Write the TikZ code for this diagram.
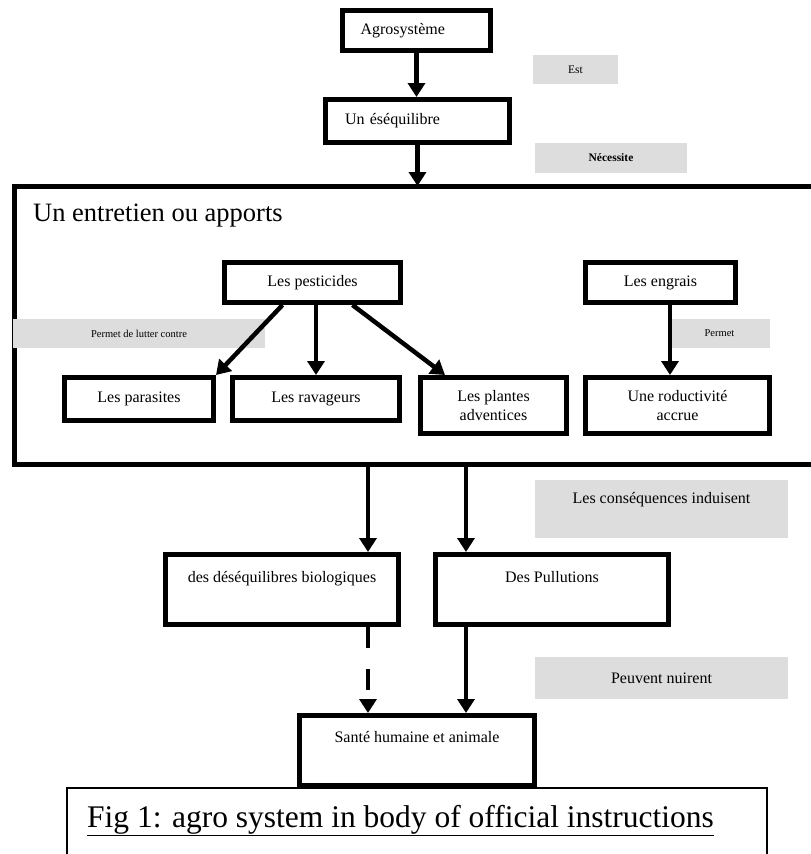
\documentclass[tikz,border=0pt]{standalone}
\usepackage{fontspec}
\setmainfont{Liberation Serif}
\usetikzlibrary{positioning,arrows.meta}
\definecolor{notegray}{HTML}{DDDDDD}

\tikzset{
	box/.style={draw,line width=5pt,align=center,inner sep=2pt,font=\fontsize{16}{19}\selectfont},
	note/.style={fill=notegray,inner sep=0pt,font=\fontsize{10.5}{12}\selectfont},
	arr/.style={line width=4.5pt,-{Triangle[width=17pt,length=14pt]}},
}

\begin{document}
\begin{tikzpicture}[x=1pt,y=-1pt]
	\useasboundingbox (0,0) rectangle (811,854);

	\node (agro)[box,minimum height=40,text width=112pt,align=left,inner xsep=18pt] at (416.5,30.5){Agrosystème};
	\node (eq)[box,minimum height=43,text width=145pt,align=left,inner xsep=19.5pt] at (417.5,121){Un éséquilibre};
	\node (est)[note,minimum width=85,minimum height=29,font=\fontsize{11.5}{13}\selectfont] at (575.5,69.5){Est};
	\node (necessite)[note,minimum width=152,minimum height=30,font=\fontsize{11.5}{13}\selectfont] at (611,158){\textbf{Nécessite}};

	% le grand cadre
	\node (entretien)[draw,line width=5pt,outer sep=0pt,anchor=north west,minimum width=830,minimum height=278] at (14.5,186){};
	\node (titre)[anchor=base west,inner sep=0pt,font=\fontsize{26.5}{30}\selectfont] at (33,221){Un entretien ou apports};

	\node (pest)[box,minimum width=176,minimum height=40] at (312.5,282.5){Les pesticides};
	\node (engrais)[box,minimum width=150,minimum height=40] at (660.5,282.5){Les engrais};
	\node (lutter)[note,minimum width=252,minimum height=29] at (139,333.5){Permet de lutter contre};
	\node (permet)[note,minimum width=101,minimum height=29] at (719.5,333.5){Permet};

	\node (parasites)[box,minimum width=149,minimum height=43] at (139,399){Les parasites};
	\node (rav)[box,minimum width=167,minimum height=43,right=14pt of parasites]{Les ravageurs};
	\node (plantes)[box,minimum width=146,minimum height=56] at (493.5,405.5){Les plantes\\adventices};
	\node (prod)[box,minimum width=184,minimum height=56] at (677.5,405.5){Une roductivité\\accrue};

	\node (consequences)[note,minimum width=253,minimum height=58,text height=12pt,text depth=24pt,font=\fontsize{16}{19}\selectfont] at (661.5,509){Les conséquences induisent};
	\node (nuire)[note,minimum width=253,minimum height=42,font=\fontsize{16}{19}\selectfont] at (661.5,678){Peuvent nuirent};

	\node (desq)[box,minimum width=233,minimum height=70,text height=12pt,text depth=27pt] at (282,589.5){des déséquilibres biologiques};
	\node (pull)[box,minimum width=233,minimum height=70,text height=12pt,text depth=27pt] at (552,589.5){Des Pullutions};
	\node (sante)[box,minimum width=235,minimum height=70,text height=12pt,text depth=29pt] at (417,750.5){Santé humaine et animale};

	% legende
	\node (cadre)[draw,line width=1.3pt,outer sep=0pt,anchor=north west,minimum width=700,minimum height=100] at (67,788){};
	\node (legende)[anchor=base west,inner sep=0pt,font=\fontsize{31.5}{36}\selectfont] at (87,827){\underline{Fig 1: agro system in body of official instructions}};

	% draw the connections
	\draw[arr] (agro.south) -- (agro.south |- eq.north);
	\draw[arr] (eq.south) -- (eq.south |- entretien.north);
	\draw[arr] ([xshift=-30pt]pest.south) -- (parasites.north east);
	\draw[arr] (pest.south -| rav.north) -- (rav.north);
	\draw[arr] ([xshift=40pt]pest.south) -- ([xshift=27pt]plantes.north west);
	\draw[arr] ([xshift=9.5pt]engrais.south) -- ([xshift=9.5pt]engrais.south |- prod.north);
	\draw[arr] ([xshift=86pt]desq.north |- entretien.south) -- ([xshift=86pt]desq.north);
	\draw[arr] ([xshift=-86pt]pull.north |- entretien.south) -- ([xshift=-86pt]pull.north);
	\draw[arr,dash pattern=on 21pt off 21pt] ([xshift=86pt]desq.south) -- ([xshift=86pt]desq.south |- sante.north);
	\draw[arr] ([xshift=-86pt]pull.south) -- ([xshift=-86pt]pull.south |- sante.north);
\end{tikzpicture}
\end{document}
